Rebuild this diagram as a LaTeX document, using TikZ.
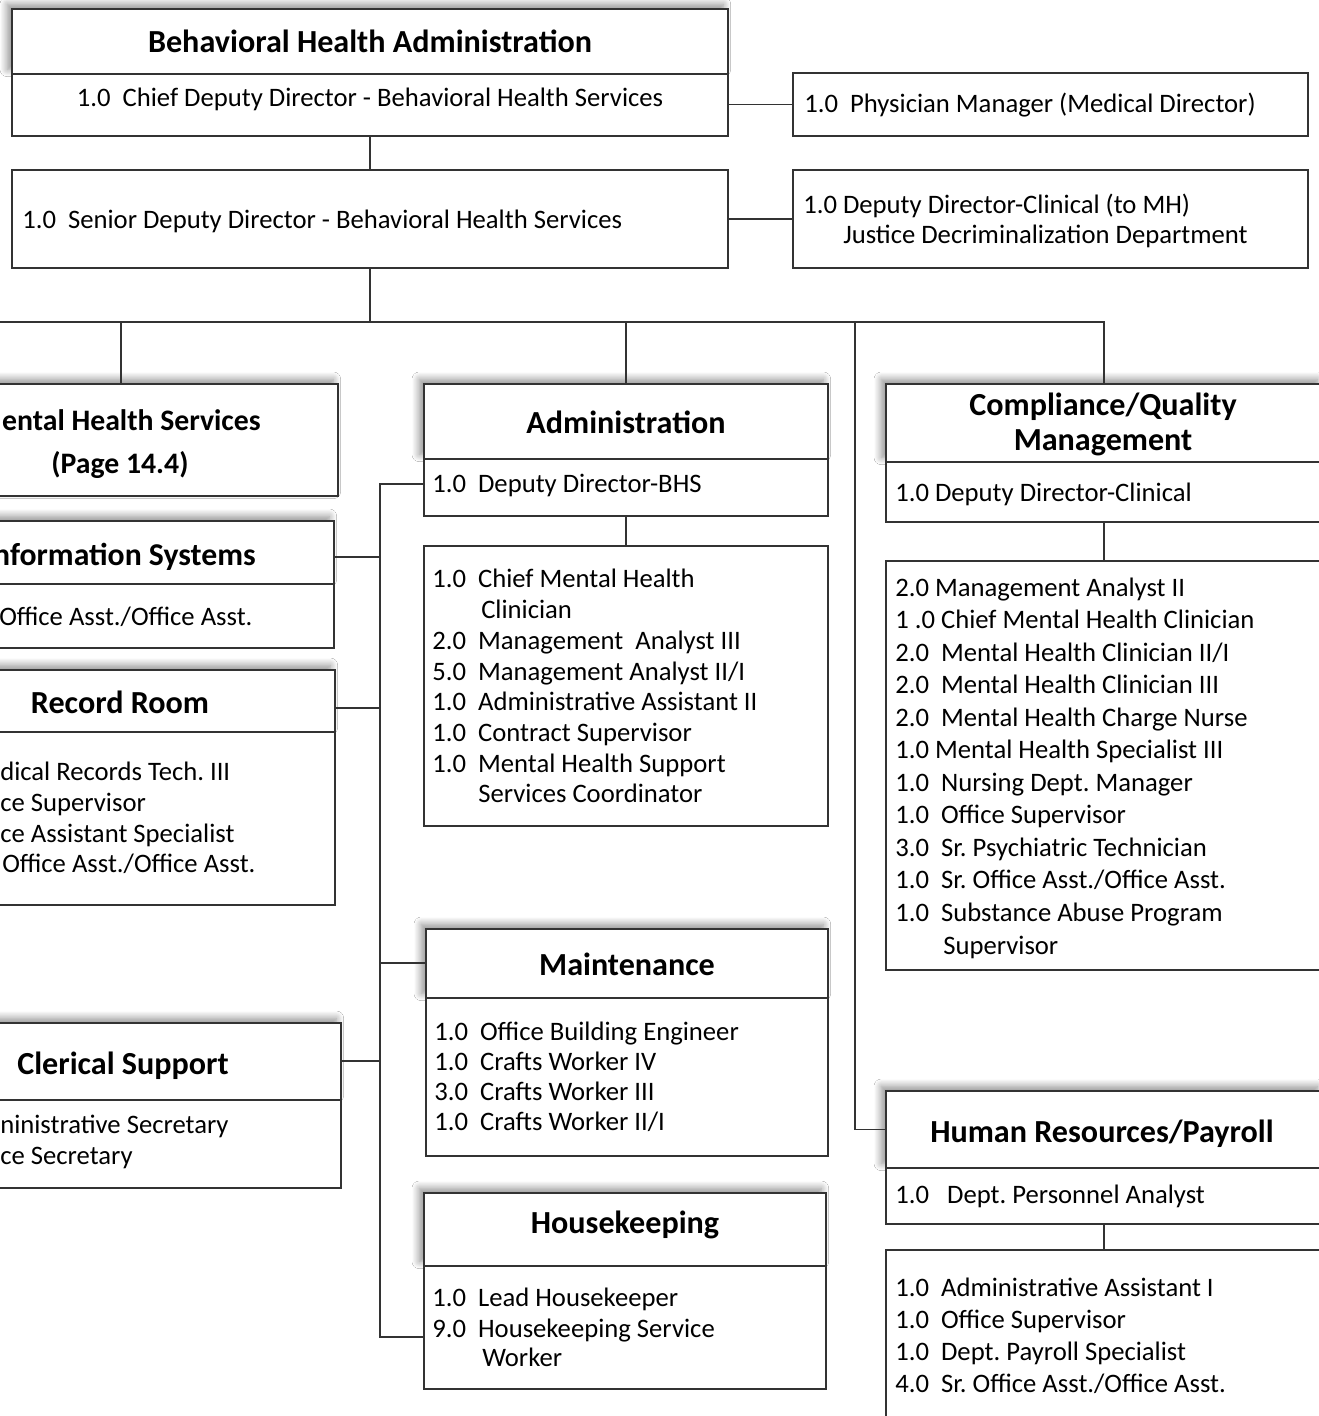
\documentclass[tikz,border=0pt]{standalone}
\usepackage{fontspec}
\setmainfont{Carlito}
\usetikzlibrary{fit,shadows.blur}
\newcommand\bodyf{\fontsize{20}{24}\selectfont}
\newcommand\headf{\fontsize{24.1}{29}\selectfont\bfseries}
\newcommand\headsf{\fontsize{22.3}{27}\selectfont\bfseries}
\frenchspacing
\begin{document}
\begin{tikzpicture}[x=0.75pt,y=-0.75pt,
  bx/.style={draw=black!80,line width=0.9pt,fill=white,inner sep=0pt,fit={#1}},
  hd/.style={blur shadow={shadow xshift=-3.5pt,shadow yshift=3.5pt,shadow blur radius=5.5pt,shadow blur steps=14,shadow opacity=45}},
  ln/.style={draw=black!80,line width=0.9pt},
  tx/.style={font=\bodyf,anchor=base west,inner sep=0pt},
  txc/.style={font=\bodyf,anchor=base,inner sep=0pt},
  tt/.style={font=\headf,anchor=base,inner sep=0pt},
  tte/.style={font=\headf,anchor=base east,inner sep=0pt}]
\useasboundingbox (0,0) rectangle (1319,1416);
\clip (0,0) rectangle (1319,1416);
\fill[white] (0,0) rectangle (1319,1416);

% ---------- boxes ----------
\node[bx={(12,9) (728,74)},hd] (bhaH) {};
\node[bx={(12,74) (728,136)}] (bhaL) {};
\node[bx={(793,73) (1308,136)}] (phys) {};
\node[bx={(12,170) (728,268)}] (sdd) {};
\node[bx={(793,170) (1308,268)}] (dep) {};

\node[bx={(-96,384) (338,496)},hd] (mhs) {};
\node[bx={(-84,521) (334,584)},hd] (isH) {};
\node[bx={(-84,584) (334,648)}] (isL) {};
\node[bx={(-84,670) (335,732)},hd] (rrH) {};
\node[bx={(-84,732) (335,905)}] (rrL) {};
\node[bx={(-84,1023) (341,1100)},hd] (csH) {};
\node[bx={(-84,1100) (341,1188)}] (csL) {};

\node[bx={(424,384) (828,459)},hd] (adH) {};
\node[bx={(424,459) (828,516)}] (adD) {};
\node[bx={(424,546) (828,826)}] (adL) {};
\node[bx={(426,929) (828,998)},hd] (mtH) {};
\node[bx={(426,998) (828,1156)}] (mtL) {};
\node[bx={(424,1193) (826,1266)},hd] (hkH) {};
\node[bx={(424,1266) (826,1389)}] (hkL) {};

\node[bx={(886,384) (1322,462)},hd] (cqH) {};
\node[bx={(886,462) (1322,522)}] (cqD) {};
\node[bx={(886,561) (1322,970)}] (cqL) {};
\node[bx={(886,1091) (1322,1168)},hd] (hrH) {};
\node[bx={(886,1168) (1322,1224)}] (hrD) {};
\node[bx={(886,1250) (1322,1432)}] (hrL) {};

% ---------- connectors ----------
\draw[ln] (bhaL.south) -- (sdd.north);
\draw[ln] (phys.west) -- (phys.west -| bhaL.east);
\draw[ln] (dep.west) -- (dep.west -| sdd.east);
\coordinate (busL) at (0,322);
\coordinate (hrJ) at (855,322);
\draw[ln] (sdd.south) -- (sdd.south |- busL);
\draw[ln] (busL) -- (busL -| cqH.north) -- (cqH.north);
\draw[ln] (mhs.north) -- (mhs.north |- busL);
\draw[ln] (adH.north) -- (adH.north |- busL);
\draw[ln] (hrJ) |- (hrH.west);
\draw[ln] (adD.south) -- (adL.north);
\draw[ln] (cqD.south) -- (cqL.north);
\draw[ln] (hrD.south) -- (hrL.north);
\coordinate (lbT) at (380,484);
\coordinate (lbB) at (380,1337);
\draw[ln] (lbT -| adD.west) -- (lbT) -- (lbB) -- (lbB -| hkL.west);
\coordinate (jIS) at (380,557);
\coordinate (jRR) at (380,708);
\coordinate (jMT) at (380,963);
\coordinate (jCS) at (380,1061);
\draw[ln] (jIS) -- (jIS -| isH.east);
\draw[ln] (jRR) -- (jRR -| rrH.east);
\draw[ln] (jMT) -- (jMT -| mtH.west);
\draw[ln] (jCS) -- (jCS -| csH.east);

% ---------- texts ----------
\node[tt] (t1) at (370,53) {Behavioral Health Administration};
\node[txc] (t2) at (370,107) {1.0\ \ Chief Deputy Director - Behavioral Health Services};
\node[tx] (t3) at (804,113) {1.0\ \ Physician Manager (Medical Director)};
\node[tx] (t4) at (22,228) {1.0\ \ Senior Deputy Director - Behavioral Health Services};
\node[tx] (t5) at (803,213) {1.0 Deputy Director-Clinical (to MH)};
\node[tx] (t6) at (843,243) {Justice Decriminalization Department};

\node[tte,font=\headsf] (m1) at (261,430) {Mental Health Services};
\node[tt,font=\headsf] (m2) at (120,473) {(Page 14.4)};

\node[tte,font=\fontsize{23.8}{28}\selectfont\bfseries] (i1) at (256,565) {Information Systems};
\node[tx] (i2) at (-1,625) {Office Asst./Office Asst.};

\node[tt] (r0) at (120,713) {Record Room};
\foreach \t/\xx [count=\i] in {{dical Records Tech. III}/0,{ce Supervisor}/0,{ce Assistant Specialist}/0,{Office Asst./Office Asst.}/2}
  \node[tx] (r\i) at (\xx,750+\i*30.7) {\t};

\node[tt] (c0) at (123,1074) {Clerical Support};
\node[tx] (c1) at (0,1133) {ninistrative Secretary};
\node[tx] (c2) at (0,1164) {ce Secretary};

\node[tt] (a0) at (626,433) {Administration};
\node[tx] (a1) at (432,492) {1.0\ \ Deputy Director-BHS};
\node[tx] (al1) at (432,587) {1.0\ \ Chief Mental Health};
\node[tx] (al2) at (481,618) {Clinician};
\node[tx] (al3) at (432,649) {2.0\ \ Management\ \ Analyst III};
\node[tx] (al4) at (432,680) {5.0\ \ Management Analyst II/I};
\node[tx] (al5) at (432,710) {1.0\ \ Administrative Assistant II};
\node[tx] (al6) at (432,741) {1.0\ \ Contract Supervisor};
\node[tx] (al7) at (432,772) {1.0\ \ Mental Health Support};
\node[tx] (al8) at (478,802) {Services Coordinator};

\node[tt] (mt0) at (627,975) {Maintenance};
\foreach \t [count=\i] in {{1.0\ \ Office Building Engineer},{1.0\ \ Crafts Worker IV},{3.0\ \ Crafts Worker III},{1.0\ \ Crafts Worker II/I}}
  \node[tx] (mt\i) at (434,1009.7+\i*30.3) {\t};

\node[tt] (h0) at (625,1233) {Housekeeping};
\node[tx] (h1) at (432,1306) {1.0\ \ Lead Housekeeper};
\node[tx] (h2) at (432,1337) {9.0\ \ Housekeeping Service};
\node[tx] (h3) at (482,1366) {Worker};

\node[tt] (q0) at (1103,415) {Compliance/Quality};
\node[tt] (q1) at (1103,450) {Management};
\node[tx] (q2) at (895,501) {1.0 Deputy Director-Clinical};
\foreach \t [count=\i] in {{2.0 Management Analyst II},{1 .0 Chief Mental Health Clinician},{2.0\ \ Mental Health Clinician II/I},{2.0\ \ Mental Health Clinician III},{2.0\ \ Mental Health Charge Nurse},{1.0 Mental Health Specialist III},{1.0\ \ Nursing Dept. Manager},{1.0\ \ Office Supervisor},{3.0\ \ Sr. Psychiatric Technician},{1.0\ \ Sr. Office Asst./Office Asst.},{1.0\ \ Substance Abuse Program}}
  \node[tx] (ql\i) at (895,563.45+\i*32.55) {\t};
\node[tx] (ql12) at (943,954) {Supervisor};

\node[tt] (hr0) at (1102,1142) {Human Resources/Payroll};
\node[tx] (hr1) at (895,1203) {1.0\ \ \ Dept. Personnel Analyst};
\foreach \t [count=\i] in {{1.0\ \ Administrative Assistant I},{1.0\ \ Office Supervisor},{1.0\ \ Dept. Payroll Specialist},{4.0\ \ Sr. Office Asst./Office Asst.}}
  \node[tx] (hl\i) at (895,1263.7+\i*32.3) {\t};
\end{tikzpicture}
\end{document}
